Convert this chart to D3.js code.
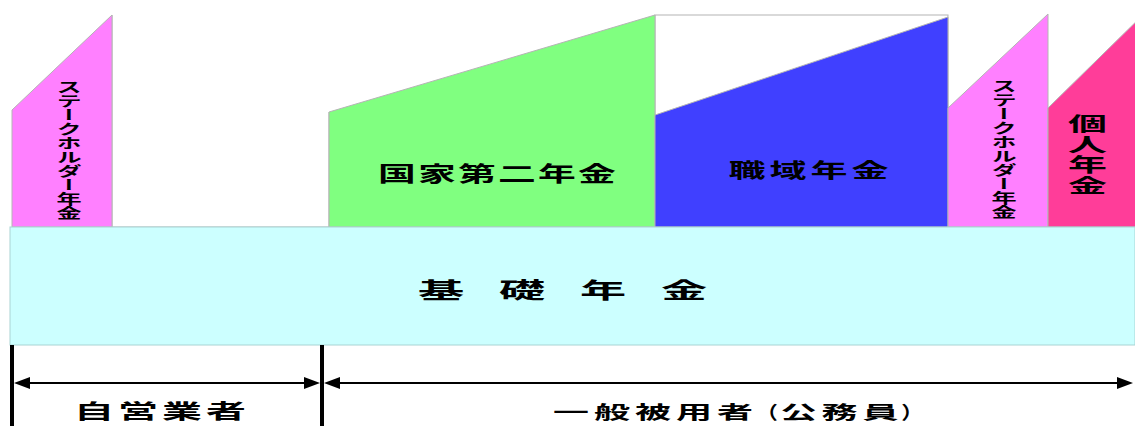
<!DOCTYPE html>
<html lang="ja">
<head>
<meta charset="UTF-8">
<title>英国の年金制度</title>
<script src="https://d3js.org/d3.v7.min.js"></script>
<style>
  html, body { margin: 0; padding: 0; background: #fff; }
  svg { display: block; }
  text { font-family: "Noto Sans CJK JP", sans-serif; font-weight: bold; fill: #000; }
</style>
</head>
<body>
<svg width="1135" height="426"></svg>
<script>
// upper tier: scheme names, span on the x units, benefit level at left / right edge
const schemes = ["ステークホルダー年金", "国家第二年金", "職域年金", "ステークホルダー年金", "個人年金"];
const schemeStart = [2, 319, 645, 938, 1038];
const schemeEnd = [102, 645, 938, 1038, 1140];
const levelLeft = [235, 233, 230, 237, 237];
const levelRight = [330, 330, 328, 331, 337];

// empty frames (no upper tier for the self-employed, headroom above 職域年金)
const frameStart = [102, 645];
const frameEnd = [319, 938];
const frameTop = [330, 330];

// first tier
const baseName = "基礎年金";
const baseLevel = 118;

// who is covered
const groups = ["自営業者", "一般被用者（公務員）"];
const groupStart = [2, 312];
const groupEnd = [312, 1125];

const svg = d3.select("svg");
const W = +svg.attr("width");

const x = d3.scaleLinear().domain([0, 1125]).range([10, 1135]);
const y = d3.scaleLinear().domain([0, 330]).range([345, 15]);

const colors = ["#ff80ff", "#80ff80", "#4040ff", "#ff80ff", "#ff3d99"];
// label layout per scheme
const labelCfg = [
  { vertical: true,  dx: 7,  cy: 150, fs: 14, sx: 1.8,  pitch: 14 },
  { vertical: false, dx: 5,  cy: 172, fs: 21, sx: 1.8,  pitch: 40 },
  { vertical: false, dx: 7,  cy: 170, fs: 20, sx: 1.85, pitch: 41 },
  { vertical: true,  dx: 6,  cy: 149, fs: 14, sx: 1.8,  pitch: 14 },
  { vertical: true,  dx: -4, cy: 155, fs: 19, sx: 2.05, pitch: 20.5 }
];

// brackets get a narrow slot and are squeezed to fit it
const slotWeight = { "（": 0.55, "）": 0.55 };

// draws a string char by char, each glyph stretched horizontally like the source
function drawChars(g, str, cx, cy, pitch, fs, sx, vertical) {
  const chars = Array.from(str);
  const w = chars.map(c => (slotWeight[c] || 1) * pitch);
  const total = d3.sum(w);
  let acc = -total / 2;
  const pos = w.map(v => { const p = acc + v / 2; acc += v; return p; });
  g.selectAll(null)
    .data(chars)
    .enter()
    .append("text")
    .attr("transform", (d, i) => {
      if (vertical) return `translate(${cx},${cy + pos[i]}) scale(${sx},1)`;
      const s = slotWeight[d] ? Math.min(sx, w[i] * 0.98 / fs) : sx;
      return `translate(${cx + pos[i]},${cy}) scale(${s},1)`;
    })
    .attr("text-anchor", "middle")
    .attr("dominant-baseline", "central")
    .style("writing-mode", vertical ? "vertical-rl" : null)
    .style("font-size", fs + "px")
    .text(d => d);
}

const grey = "#b4b4b4";

// frames
frameStart.forEach((s, i) => {
  const x0 = x(s), x1 = x(frameEnd[i]), yt = y(frameTop[i]), yb = y(baseLevel);
  if (i === 1) {
    svg.append("rect")
      .attr("x", x0).attr("y", yt)
      .attr("width", x1 - x0).attr("height", yb - yt)
      .attr("fill", "#fff").attr("stroke", grey);
  } else {
    svg.append("path")
      .attr("d", `M${x0},${yt}V${yb}H${x1}V${y(levelLeft[1])}`)
      .attr("fill", "none").attr("stroke", grey);
  }
});

// upper tier shapes
const tiers = svg.append("g");
schemes.forEach((name, i) => {
  const x0 = x(schemeStart[i]), x1 = x(schemeEnd[i]);
  tiers.append("path")
    .attr("d", `M${x0},${y(baseLevel)}V${y(levelLeft[i])}L${x1},${y(levelRight[i])}V${y(baseLevel)}Z`)
    .attr("fill", colors[i])
    .attr("stroke", grey)
    .attr("stroke-width", 1);
});

// base tier
svg.append("rect")
  .attr("x", x(0)).attr("y", y(baseLevel))
  .attr("width", x(1125) - x(0)).attr("height", y(0) - y(baseLevel))
  .attr("fill", "#ccffff")
  .attr("stroke", "#a9d4d4");

// labels
schemes.forEach((name, i) => {
  const c = labelCfg[i];
  const right = Math.min(x(schemeEnd[i]), W);
  const cx = (x(schemeStart[i]) + right) / 2 + c.dx;
  drawChars(svg.append("g"), name, cx, c.cy, c.pitch, c.fs, c.sx, c.vertical);
});
drawChars(svg.append("g"), baseName, (x(0) + x(1125)) / 2 - 10, 288, 81, 22, 2.1, false);

// coverage arrows
const bars = [groupStart[0], groupStart[1]];
svg.selectAll(".bar")
  .data(bars)
  .enter()
  .append("line")
  .attr("x1", d => x(d)).attr("x2", d => x(d))
  .attr("y1", y(0)).attr("y2", 426)
  .attr("stroke", "#000").attr("stroke-width", 4);

const ay = 383, ah = 16, aw = 6;
groups.forEach((name, i) => {
  const a = x(groupStart[i]) + 2;
  const b = Math.min(x(groupEnd[i]), W) - 2;
  svg.append("line")
    .attr("x1", a + ah - 2).attr("x2", b - ah + 2)
    .attr("y1", ay).attr("y2", ay)
    .attr("stroke", "#000").attr("stroke-width", 2);
  svg.append("path")
    .attr("d", `M${a},${ay}L${a + ah},${ay - aw}V${ay + aw}Z M${b},${ay}L${b - ah},${ay - aw}V${ay + aw}Z`)
    .attr("fill", "#000");
});
drawChars(svg.append("g"), groups[0], 160, 410, 44, 20, 2.0, false);
drawChars(svg.append("g"), groups[1], 737, 411, 41, 18, 2.0, false);
</script>
</body>
</html>
